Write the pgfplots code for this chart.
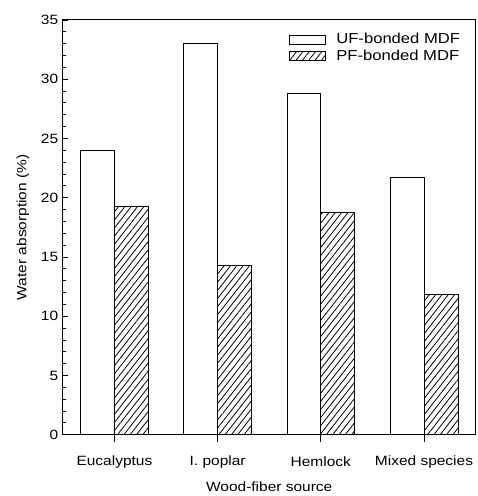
\documentclass[border=0pt]{standalone}
\usepackage{fontspec}
\setmainfont{Liberation Sans}[FakeStretch=1.15]
\usepackage{pgfplots}
\pgfplotsset{compat=1.18}
\usetikzlibrary{patterns.meta}
\begin{document}
\fontsize{13.5bp}{16bp}\selectfont
\begin{tikzpicture}
\begin{axis}[
  scale only axis,
  width=414bp, height=416bp,
  xmin=-0.5, xmax=3.5,
  ymin=0, ymax=35,
  ybar=0pt,
  bar width=34bp,
  xtick={0,1,2,3},
  xticklabels={Eucalyptus, I. poplar, Hemlock, Mixed species},
  ytick={0,5,...,35},
  minor y tick num=4,
  tick align=inside,
  xtick pos=bottom,
  ytick pos=left,
  major tick length=5bp,
  minor tick length=3bp,
  xtick style={yshift=-7bp, /pgfplots/major tick length=7bp},
  /pgf/number format/assume math mode=true,
  tick label style={font=\fontsize{13.5bp}{16bp}\selectfont},
  x tick label style={anchor=center, yshift=-27bp},
  ylabel={Water absorption (\%)},
  xlabel={Wood-fiber source},
  label style={font=\fontsize{13.5bp}{16bp}\selectfont},
  ylabel style={at={(axis description cs:-0.0966,0.5)}, anchor=center},
  xlabel style={at={(axis description cs:0.5,-0.125)}, anchor=center},
  axis line style={line width=1bp},
  every tick/.style={black, line width=0.8bp},
  legend style={at={(0.975,0.978)}, anchor=north east, draw=none, fill=none,
    font=\fontsize{14.5bp}{17bp}\selectfont, row sep=0bp,
    /tikz/every odd column/.append style={column sep=9bp}},
  legend cell align=left,
  legend image code/.code={\draw[#1, line width=0.8bp] (0bp,-4.5bp) rectangle (36bp,4.5bp);},
]
\addplot[draw=black, fill=white, line width=0.8bp] coordinates {(0,24) (1,33) (2,28.8) (3,21.7)};
\addplot[draw=black, line width=0.8bp, pattern={Lines[angle=52,distance=5bp,line width=0.8bp]}] coordinates {(0,19.3) (1,14.3) (2,18.75) (3,11.8)};
\legend{UF-bonded MDF, PF-bonded MDF}
\end{axis}
\path (current axis.south west) ++(-63bp,-60bp) (current axis.north east) ++(1bp,20bp);
\end{tikzpicture}
\end{document}
